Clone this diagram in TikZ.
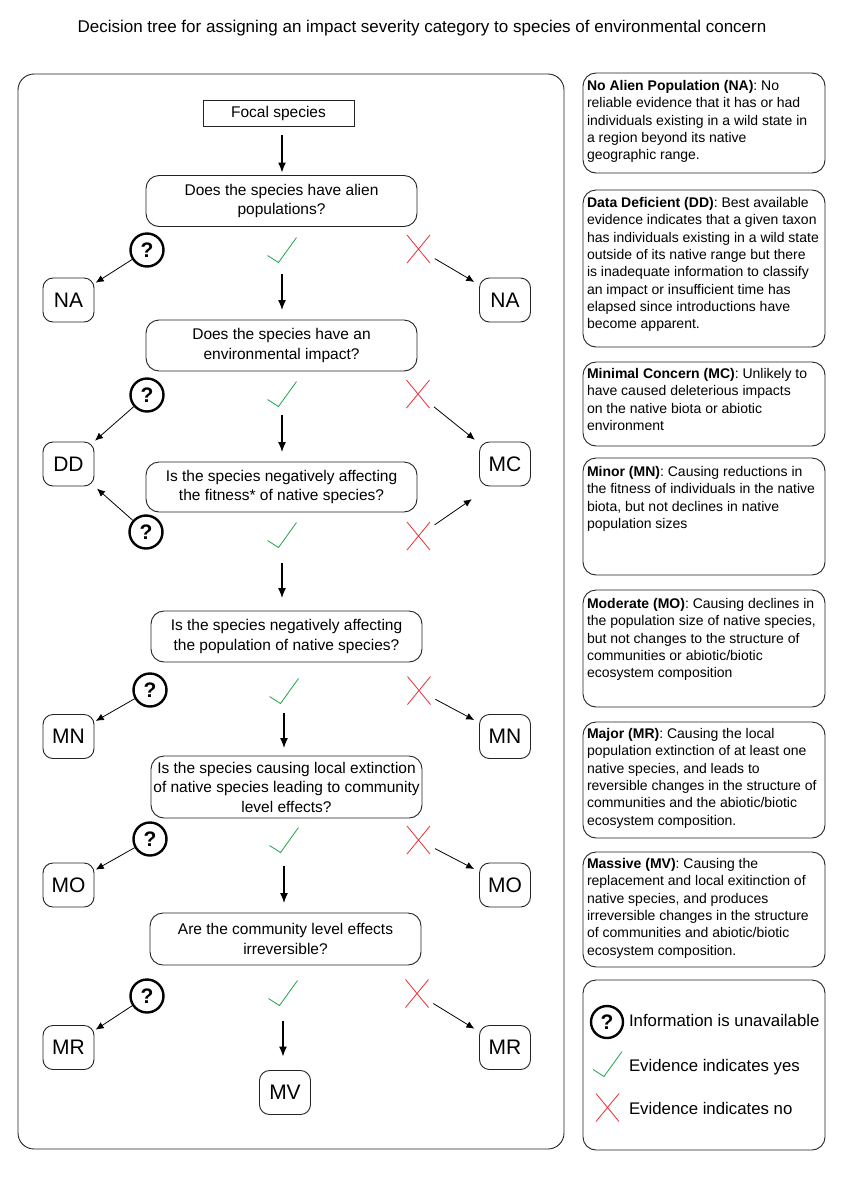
\documentclass[tikz,border=0pt]{standalone}
\usepackage{fontspec}
\setmainfont{Liberation Sans}
\usetikzlibrary{arrows.meta}
\definecolor{yescol}{RGB}{30,165,75}
\definecolor{nocol}{RGB}{238,45,55}
\definecolor{linecol}{RGB}{35,35,35}
\begin{document}
\begin{tikzpicture}[x=1pt,y=-1pt,
  every node/.style={inner sep=0pt, outer sep=0pt, text=black},
  frame/.style={draw=linecol, line width=0.9pt, rounded corners=13pt},
  qbox/.style={draw=linecol, line width=0.9pt, rounded corners=13pt, minimum width=271pt, minimum height=51pt, align=center, font=\fontsize{15.5}{19.5}\selectfont},
  labbox/.style={draw=linecol, line width=0.9pt, rounded corners=10pt, minimum width=51pt, minimum height=44pt, font=\fontsize{21}{24}\selectfont},
  unkmark/.style={circle, draw=black, line width=2.4pt, minimum size=33pt, font=\fontsize{21}{24}\selectfont\bfseries},
  yesmark/.style={minimum width=30pt, minimum height=27pt, path picture={\draw[yescol, line width=0.8pt] ([shift={(-14.5,5.5)}]path picture bounding box.center) -- ++(11,7) -- ++(18,-25);}},
  nomark/.style={minimum width=24pt, minimum height=29pt, path picture={\draw[nocol, line width=0.8pt] ([shift={(-11.5,-14)}]path picture bounding box.center) -- ++(23,28) ([shift={(11.5,-14)}]path picture bounding box.center) -- ++(-23,28);}},
  downarr/.style={draw=black, line width=1.3pt, -{Latex[length=10pt,width=8pt]}},
  diagarr/.style={draw=black, line width=0.8pt, -{Latex[length=8pt,width=7pt]}},
  sidetext/.style={anchor=north west, align=left, font=\fontsize{14}{17.3}\selectfont},
  legtext/.style={anchor=base west, font=\fontsize{16.8}{19}\selectfont}
]
\useasboundingbox (0,0) rectangle (841,1189);
\fill[white] (0,0) rectangle (841,1189);

% title
\node (title) at (422,28) {\fontsize{17}{20}\selectfont Decision tree for assigning an impact severity category to species of environmental concern};

% main frame
\draw[frame, rounded corners=16pt] (18,74) rectangle (564,1149);

% top node
\node[draw=linecol, line width=0.9pt, minimum width=151pt, minimum height=26pt, font=\fontsize{15.5}{18}\selectfont] (focal) at (278.5,113) {Focal species};

% questions
\node[qbox] (q1) at (281.5,201) {Does the species have alien\\populations?};
\node[qbox] (q2) at (281.5,345.5) {Does the species have an\\environmental impact?};
\node[qbox, minimum height=50pt] (q3) at (281.5,487) {Is the species negatively affecting\\the fitness* of native species?};
\node[qbox] (q4) at (286.5,636.5) {Is the species negatively affecting\\the population of native species?};
\node[qbox, minimum height=62pt] (q5) at (286.5,787) {Is the species causing local extinction\\of native species leading to community\\level effects?};
\node[qbox, minimum height=52pt] (q6) at (285.5,939) {Are the community level effects\\irreversible?};

% outcome labels
\node[labbox] (na1) at (68.5,300) {NA};
\node[labbox] (na2) at (505,300) {NA};
\node[labbox] (dd) at (68.5,464) {DD};
\node[labbox] (mc) at (505,464) {MC};
\node[labbox] (mn1) at (68.5,736.5) {MN};
\node[labbox] (mn2) at (505,736.5) {MN};
\node[labbox] (mo1) at (68.5,885) {MO};
\node[labbox] (mo2) at (505,885) {MO};
\node[labbox] (mr1) at (68.5,1047.5) {MR};
\node[labbox] (mr2) at (505,1047.5) {MR};
\node[labbox] (mv) at (285,1092.5) {MV};

% unknown marks
\node[unkmark] (u1) at (147,250) {?};
\node[unkmark] (u2) at (147,395) {?};
\node[unkmark] (u3) at (146,532) {?};
\node[unkmark] (u4) at (150,690) {?};
\node[unkmark] (u5) at (150,839) {?};
\node[unkmark] (u6) at (147,996) {?};

% yes marks
\node[yesmark] (y1) at (282,250) {};
\node[yesmark] (y2) at (282,394) {};
\node[yesmark] (y3) at (282,535) {};
\node[yesmark] (y4) at (284,691) {};
\node[yesmark] (y5) at (284,840) {};
\node[yesmark] (y6) at (283,993) {};

% no marks
\node[nomark] (x1) at (418.5,249) {};
\node[nomark] (x2) at (418,394) {};
\node[nomark] (x3) at (418.5,536) {};
\node[nomark] (x4) at (419,690.5) {};
\node[nomark] (x5) at (418.5,840) {};
\node[nomark] (x6) at (417,993.5) {};

% vertical arrows
\draw[downarr, shorten <=9pt, shorten >=3pt] (focal.south -| y1.south) -- (q1.north -| y1.south);
\draw[downarr, shorten <=10pt, shorten >=10pt] (y1.south) -- (y1.south |- q2.north);
\draw[downarr, shorten <=7pt, shorten >=10pt] (y2.south) -- (y2.south |- q3.north);
\draw[downarr, shorten <=14pt, shorten >=13pt] (y3.south) -- (y3.south |- q4.north);
\draw[downarr, shorten <=8pt, shorten >=8pt] (y4.south) -- (y4.south |- q5.north);
\draw[downarr, shorten <=12pt, shorten >=10pt] (y5.south) -- (y5.south |- q6.north);
\draw[downarr, shorten <=14pt, shorten >=14pt] (y6.south) -- (y6.south |- mv.north);

% diagonal arrows, unknown
\draw[diagarr, shorten <=1pt, shorten >=2pt] (u1) -- (na1);
\draw[diagarr, shorten <=1pt, shorten >=2pt] (u2) -- (dd);
\draw[diagarr, shorten <=1pt, shorten >=4pt] (u3) -- (dd.south east);
\draw[diagarr, shorten <=1pt, shorten >=2pt] (u4) -- (mn1);
\draw[diagarr, shorten <=1pt, shorten >=2pt] (u5) -- (mo1);
\draw[diagarr, shorten <=1pt, shorten >=2pt] (u6) -- (mr1);

% diagonal arrows, no
\draw[diagarr, shorten <=5pt, shorten >=6pt] (x1) -- (na2);
\draw[diagarr, shorten <=5pt, shorten >=6pt] (x2) -- (mc);
\draw[diagarr, shorten <=5pt, shorten >=2pt] (x3) -- ([shift={(-6,12)}]mc.south west);
\draw[diagarr, shorten <=5pt, shorten >=6pt] (x4) -- (mn2);
\draw[diagarr, shorten <=5pt, shorten >=6pt] (x5) -- (mo2);
\draw[diagarr, shorten <=5pt, shorten >=6pt] (x6) -- (mr2);

% side definitions
\draw[frame] (583,73) rectangle (825,173);
\node[sidetext] (t1) at (587,80.5) {\textbf{No Alien Population (NA)}: No\\reliable evidence that it has or had\\individuals existing in a wild state in\\a region beyond its native\\geographic range.};
\draw[frame] (583,190) rectangle (825,347);
\node[sidetext] (t2) at (587,197.5) {\textbf{Data Deficient (DD)}: Best available\\evidence indicates that a given taxon\\has individuals existing in a wild state\\outside of its native range but there\\is inadequate information to classify\\an impact or insufficient time has\\elapsed since introductions have\\become apparent.};
\draw[frame] (583,362) rectangle (825,446);
\node[sidetext] (t3) at (587,368.5) {\textbf{Minimal Concern (MC)}: Unlikely to\\have caused deleterious impacts\\on the native biota or abiotic\\environment};
\draw[frame] (583,458) rectangle (825,575);
\node[sidetext] (t4) at (587,466.5) {\textbf{Minor (MN)}: Causing reductions in\\the fitness of individuals in the native\\biota, but not declines in native\\population sizes};
\draw[frame] (583,590) rectangle (825,707);
\node[sidetext] (t5) at (587,598.5) {\textbf{Moderate (MO)}: Causing declines in\\the population size of native species,\\but not changes to the structure of\\communities or abiotic/biotic\\ecosystem composition};
\draw[frame] (583,722) rectangle (825,838);
\node[sidetext] (t6) at (587,728.5) {\textbf{Major (MR)}: Causing the local\\population extinction of at least one\\native species, and leads to\\reversible changes in the structure of\\communities and the abiotic/biotic\\ecosystem composition.};
\draw[frame] (583,852) rectangle (825,967);
\node[sidetext] (t7) at (587,858.5) {\textbf{Massive (MV)}: Causing the\\replacement and local exitinction of\\native species, and produces\\irreversible changes in the structure\\of communities and abiotic/biotic\\ecosystem composition.};

% legend
\draw[frame] (583,980) rectangle (825,1150);
\node[unkmark, minimum size=32pt] (lu) at (607,1022) {?};
\node[yesmark] (ly) at (607.5,1064) {};
\node[nomark] (ln) at (607.5,1107.5) {};
\node[legtext] (lt1) at (629,1026) {Information is unavailable};
\node[legtext] (lt2) at (629,1071) {Evidence indicates yes};
\node[legtext] (lt3) at (629,1114) {Evidence indicates no};
\end{tikzpicture}
\end{document}
